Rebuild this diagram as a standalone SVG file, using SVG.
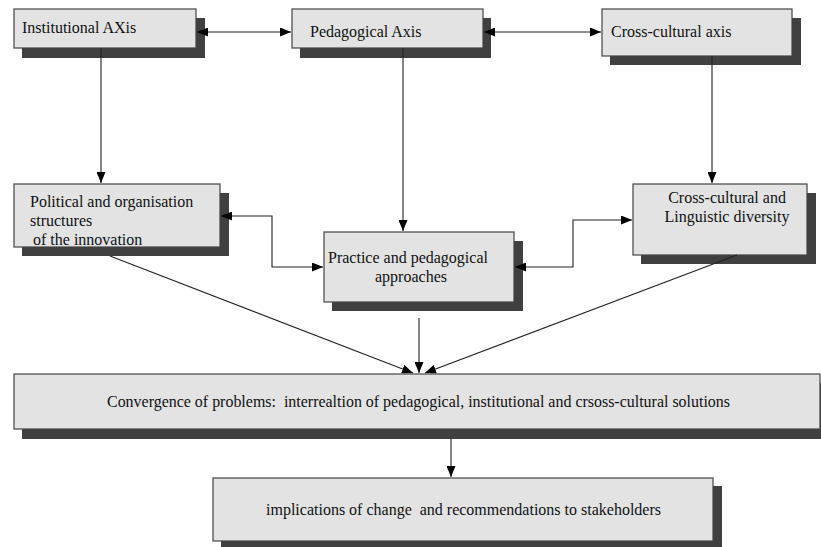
<svg xmlns="http://www.w3.org/2000/svg" width="821" height="547" viewBox="0 0 821 547">
<defs>
<marker id="ae" markerWidth="11" markerHeight="9" refX="11" refY="4.5" orient="auto" markerUnits="userSpaceOnUse">
<path d="M0,0 L11,4.5 L0,9 z" fill="#000"/>
</marker>
<marker id="as" markerWidth="11" markerHeight="9" refX="0" refY="4.5" orient="auto" markerUnits="userSpaceOnUse">
<path d="M11,0 L0,4.5 L11,9 z" fill="#000"/>
</marker>
<style>
.sh{fill:#404040;}
.bx{fill:#e3e3e3;stroke:#444;stroke-width:1.2;}
.ln{fill:none;stroke:#222;stroke-width:1.1;}
</style>
</defs>
<rect width="821" height="547" fill="#fff"/>

<g font-family="Liberation Serif, Times New Roman, serif" font-size="16" fill="#111">
<g id="institutional">
<rect class="sh" x="22" y="18" width="183" height="40"/>
<rect class="bx" x="14" y="9" width="182" height="39"/>
<text x="22" y="33">Institutional AXis</text>
</g>

<g id="pedagogical">
<rect class="sh" x="300" y="18" width="191" height="40"/>
<rect class="bx" x="292" y="9" width="191" height="39"/>
<text x="310" y="37">Pedagogical Axis</text>
</g>

<g id="crosscultural">
<rect class="sh" x="610" y="18" width="191" height="47"/>
<rect class="bx" x="602" y="9" width="190" height="47"/>
<text x="611" y="37">Cross-cultural axis</text>
</g>

<g id="political">
<rect class="sh" x="22" y="193" width="207" height="63"/>
<rect class="bx" x="14" y="184" width="206" height="63"/>
<text x="30" y="207">Political and organisation</text>
<text x="30" y="226">structures</text>
<text x="33" y="245">of the innovation</text>
</g>

<g id="practice">
<rect class="sh" x="332" y="241" width="191" height="70"/>
<rect class="bx" x="324" y="232" width="190" height="70"/>
<text text-anchor="middle" x="408" y="263">Practice and pedagogical</text>
<text text-anchor="middle" x="411" y="282">approaches</text>
</g>

<g id="diversity">
<rect class="sh" x="641" y="193" width="175" height="71"/>
<rect class="bx" x="633" y="184" width="174" height="71"/>
<text text-anchor="middle" x="727" y="203">Cross-cultural and</text>
<text text-anchor="middle" x="727" y="222">Linguistic diversity</text>
</g>

<g id="convergence">
<rect class="sh" x="22" y="383" width="807" height="56"/>
<rect class="bx" x="14" y="374" width="806" height="55"/>
<text x="107" y="407" textLength="623" lengthAdjust="spacingAndGlyphs" xml:space="preserve">Convergence of problems:  interrealtion of pedagogical, institutional and crsoss-cultural solutions</text>
</g>

<g id="implications">
<rect class="sh" x="221" y="486" width="501" height="64"/>
<rect class="bx" x="213" y="478" width="500" height="63"/>
<text x="266" y="515" xml:space="preserve">implications of change  and recommendations to stakeholders</text>
</g>
</g>

<g id="connectors">
<line class="ln" marker-start="url(#as)" marker-end="url(#ae)" x1="197" y1="32" x2="291" y2="32"/>
<line class="ln" marker-start="url(#as)" marker-end="url(#ae)" x1="484" y1="32" x2="601" y2="32"/>
<line class="ln" marker-end="url(#ae)" x1="101" y1="48" x2="101" y2="183"/>
<line class="ln" marker-end="url(#ae)" x1="403" y1="48" x2="403" y2="231"/>
<line class="ln" marker-end="url(#ae)" x1="712" y1="56" x2="712" y2="183"/>
<path class="ln" marker-start="url(#as)" marker-end="url(#ae)" d="M221,216 H272 V267 H323"/>
<path class="ln" marker-start="url(#as)" marker-end="url(#ae)" d="M515,267 H573 V220 H632"/>
<line class="ln" marker-end="url(#ae)" x1="110" y1="256" x2="413" y2="373"/>
<line class="ln" marker-end="url(#ae)" x1="737" y1="255" x2="425" y2="373"/>
<line class="ln" marker-end="url(#ae)" x1="419" y1="318" x2="419" y2="373"/>
<line class="ln" marker-end="url(#ae)" x1="451" y1="439" x2="451" y2="477"/>
</g>
</svg>
